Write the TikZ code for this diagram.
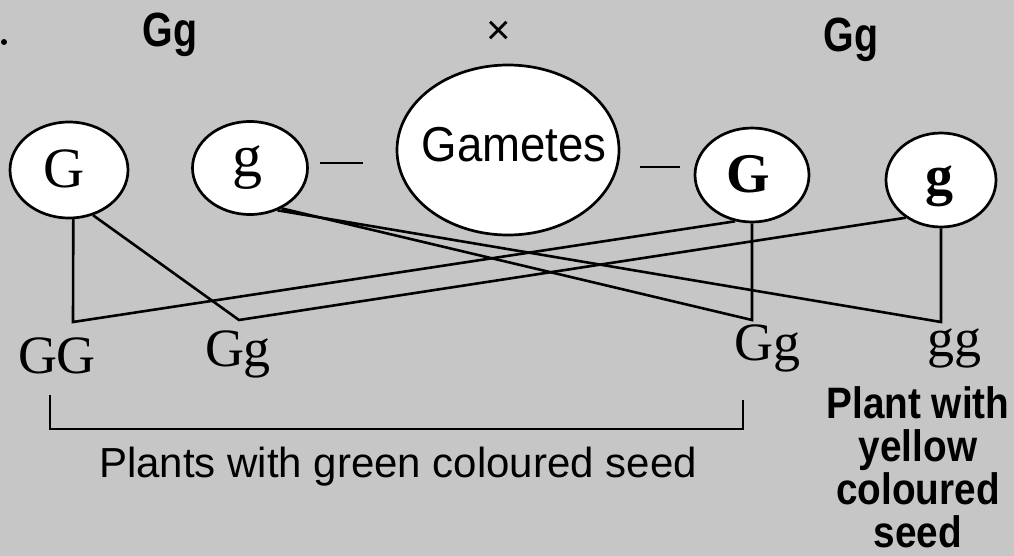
\documentclass[tikz,border=0pt]{standalone}
\usepackage{fontspec}
\setmainfont{Liberation Serif}
\newfontfamily\csans[FakeStretch=0.82]{Liberation Sans}
\newfontfamily\msans[FakeStretch=0.93]{Liberation Sans}
\newfontfamily\nsans{Liberation Sans}
\newfontfamily\rsans[FakeStretch=0.88]{Liberation Sans}
\usetikzlibrary{shapes.geometric}
\definecolor{paper}{RGB}{198,198,198}
\begin{document}
\begin{tikzpicture}[x=1pt,y=-1pt,
  gamete/.style={ellipse, draw=black, fill=white, line width=2.7pt, inner sep=0pt},
  conn/.style={line width=2.6pt, line join=miter},
  allele/.style={anchor=base, inner sep=0pt, font=\fontsize{57}{57}\selectfont},
  alleleb/.style={anchor=base, inner sep=0pt, font=\fontsize{56}{56}\selectfont\bfseries},
  geno/.style={anchor=base, inner sep=0pt, font=\fontsize{54}{54}\selectfont},
  parent/.style={anchor=base, inner sep=0pt, font=\fontsize{48}{48}\selectfont\csans\bfseries},
]
\fill[paper] (0,0) rectangle (1014,556);
\useasboundingbox (0,0) rectangle (1014,556);
\fill[black] (4,42) circle (3);

% parents
\node[parent] (p1) at (170,47) {Gg};
\node[inner sep=0pt, font=\fontsize{42}{42}\selectfont\nsans] (cross) at (499,33) {×};
\node[parent] (p2) at (851,52) {Gg};

% gamete circles
\node[gamete, minimum width=118pt, minimum height=96pt] (Gl) at (69,170) {};
\node[gamete, minimum width=115pt, minimum height=93pt] (gl) at (250,168) {};
\node[gamete, minimum width=222pt, minimum height=170pt] (gam) at (508,150) {};
\node[gamete, minimum width=114pt, minimum height=94pt] (Gr) at (752,175) {};
\node[gamete, minimum width=110pt, minimum height=94pt] (gr) at (941,180) {};

\node[allele] (tGl) at (64,188) {G};
\node[allele, font=\fontsize{60}{60}\selectfont] (tgl) at (247,177) {g};
\node[anchor=base, inner sep=0pt, font=\fontsize{49}{49}\selectfont\msans] (tgam) at (514,162) {Gametes};
\node[alleleb] (tGr) at (748,193) {G};
\node[alleleb] (tgr) at (939,194) {g};

% dashes
\draw[conn] (320,163) -- (363,163);
\draw[conn] (640,167) -- (680,167);

% offspring corners
\coordinate (cGG) at (73,322);
\coordinate (cGg1) at (239,320);
\coordinate (cGg2) at (752,320);
\coordinate (cgg) at (941,322);

\draw[conn] (Gl.-85) -- (cGG) -- (Gr.-110);
\draw[conn] (Gl.-62) -- (cGg1) -- (gr.-133);
\draw[conn] (gl.-57) -- (cgg) -- (gr.south);
\draw[conn] (gl.-52) -- (cGg2) -- (Gr.south);

% offspring
\node[geno] (oGG) at (57,373) {GG};
\node[geno] (oGg1) at (238,366) {Gg};
\node[geno] (oGg2) at (767,360) {Gg};
\node[geno] (ogg) at (954,356) {gg};

% bracket
\coordinate (b1) at (50,395);
\coordinate (b2) at (50,429);
\coordinate (b3) at (743,429);
\coordinate (b4) at (743,400);
\draw[line width=2.3pt] (b1) -- (b2) -- (b3) -- (b4);

\node[anchor=base, inner sep=0pt, font=\fontsize{42}{42}\selectfont\nsans] (green) at (398,477) {Plants with green coloured seed};
\node[anchor=north, inner sep=0pt, align=center, font=\fontsize{44}{43}\selectfont\rsans\bfseries] (yellow) at (918,386) {Plant with\\yellow\\coloured\\seed};
\end{tikzpicture}
\end{document}
